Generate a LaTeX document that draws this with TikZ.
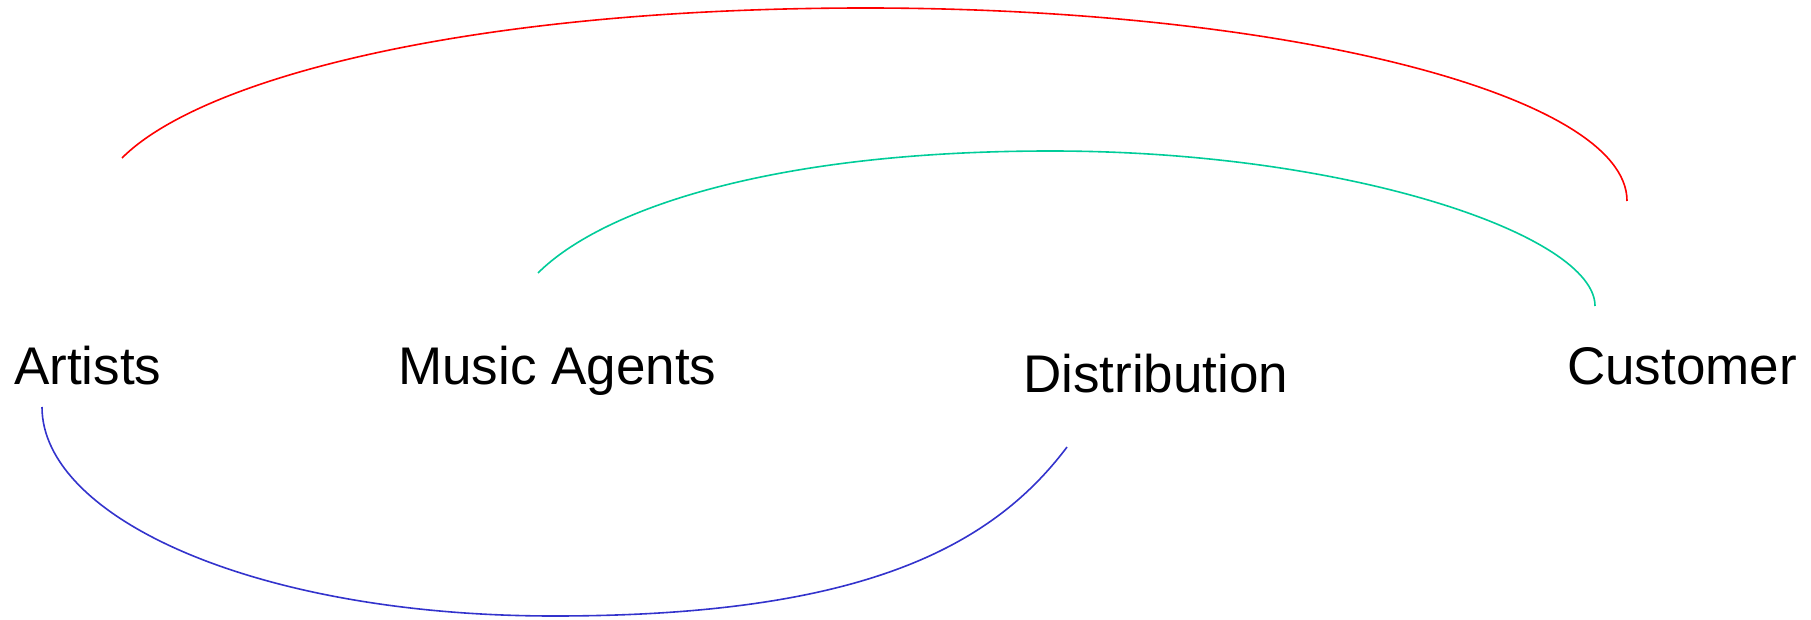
\documentclass[tikz,border=0pt]{standalone}
\usepackage{fontspec}
\setmainfont{Liberation Sans}
\definecolor{arcred}{RGB}{255,0,0}
\definecolor{arcteal}{RGB}{0,204,153}
\definecolor{arcblue}{RGB}{51,51,204}
\begin{document}
\begin{tikzpicture}[x=1pt,y=-1pt,
  party/.style={anchor=base west,inner sep=0pt,font=\fontsize{53}{60}\selectfont},
  arc/.style={line width=1.6pt}]
\useasboundingbox (0,0) rectangle (1811,620);
\node[party] (art) at (14,384) {Artists};
\node[party] (agt) at (398,384) {Music Agents};
\node[party] (dist) at (1023,392) {Distribution};
\node[party] (cust) at (1567,384) {Customer};
% ends of the arcs
\coordinate (art-top) at (122,158);
\coordinate (art-bot) at (42,407);
\coordinate (agt-top) at (538,273);
\coordinate (dist-bot) at (1067,447);
\coordinate (cust-a) at (1627,201);
\coordinate (cust-b) at (1595,306);
\path[draw,arc,arcred] (art-top) .. controls (202,78) and (470,8) .. (866,8)
  .. controls (1285,8) and (1627,95) .. (cust-a);
\path[draw,arc,arcteal] (agt-top) .. controls (598,213) and (761,151) .. (1051,151)
  .. controls (1351,151) and (1595,236) .. (cust-b);
\path[draw,arc,arcblue] (art-bot) .. controls (42,517) and (254,616) .. (554,616)
  .. controls (854,616) and (989,551) .. (dist-bot);
\end{tikzpicture}
\end{document}
